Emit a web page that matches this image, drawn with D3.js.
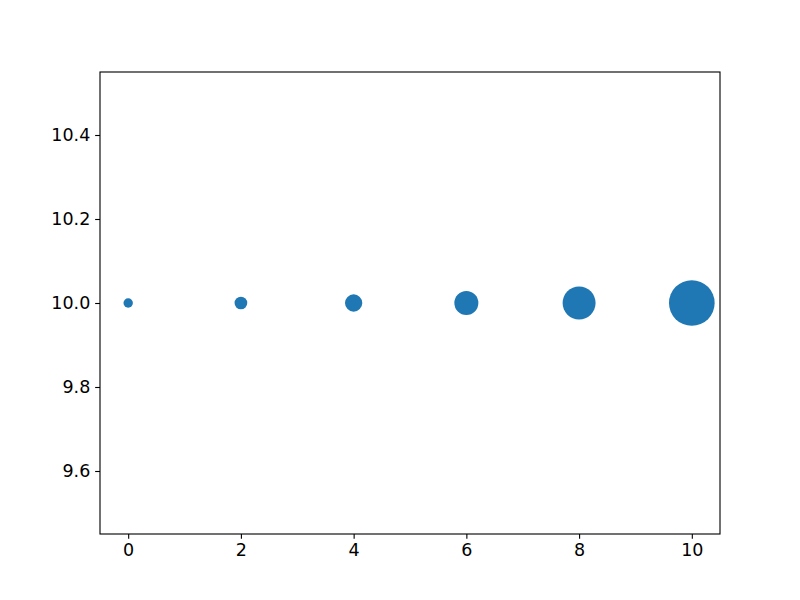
<!DOCTYPE html>
<html><head><meta charset="utf-8">
<script src="https://cdn.jsdelivr.net/npm/d3@7"></script>
<style>body{margin:0;background:#fff}svg{display:block}text{font-family:"DejaVu Sans",sans-serif}</style>
</head><body>
<script>
const xValues = [0, 2, 4, 6, 8, 10];
const yValues = [10, 10, 10, 10, 10, 10];
const sizes = [36, 66, 122, 235, 443, 850]; // marker area, pt^2
const xTicks = [0, 2, 4, 6, 8, 10];
const yTicks = [9.6, 9.8, 10.0, 10.2, 10.4];

const W = 800, H = 600;
const m = {left: 100, right: 80, top: 72, bottom: 66};
const svg = d3.select("body").append("svg").attr("width", W).attr("height", H);
const x = d3.scaleLinear().domain([-0.5, 10.5]).range([m.left, W - m.right]);
const y = d3.scaleLinear().domain([9.45, 10.55]).range([H - m.bottom, m.top]);
const r = d3.scaleSqrt().domain([0, 1]).range([0, Math.sqrt(1 / Math.PI) * 100 / 72]);

svg.append("g").selectAll("circle").data(xValues).join("circle")
  .attr("cx", (d) => x(d)).attr("cy", (d, i) => y(yValues[i]))
  .attr("r", (d, i) => r(sizes[i])).attr("fill", "#1f77b4");

const tl = 3.5 * 100 / 72, pad = 3.5 * 100 / 72;
const xa = svg.append("g").attr("transform", `translate(0,${H - m.bottom})`)
  .call(d3.axisBottom(x).tickValues(xTicks).tickFormat(d3.format("d")).tickSizeInner(tl).tickSizeOuter(0).tickPadding(pad));
const ya = svg.append("g").attr("transform", `translate(${m.left},0)`)
  .call(d3.axisLeft(y).tickValues(yTicks).tickFormat(d3.format(".1f")).tickSizeInner(tl).tickSizeOuter(0).tickPadding(pad));
[xa, ya].forEach(a => {
  a.attr("font-size", null).attr("font-family", null);
  a.select(".domain").remove();
  a.selectAll("text").style("font-size", "17.5px").attr("fill", "#000").style("font-family", "'DejaVu Sans'");
  a.selectAll("line").attr("stroke", "#000").attr("stroke-width", 0.8 * 100 / 72);
});
svg.append("rect").attr("x", m.left).attr("y", m.top)
  .attr("width", W - m.left - m.right).attr("height", H - m.top - m.bottom)
  .attr("fill", "none").attr("stroke", "#000").attr("stroke-width", 0.8 * 100 / 72);
</script>
</body></html>
